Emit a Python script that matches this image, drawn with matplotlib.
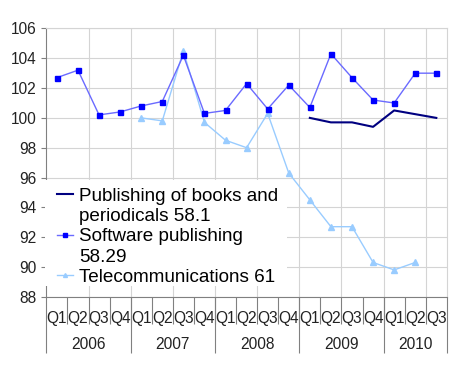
import numpy as np
import matplotlib
matplotlib.use('Agg')
import matplotlib.pyplot as plt
from matplotlib.lines import Line2D
from matplotlib.patches import Rectangle

plt.rcParams['font.family'] = ['Liberation Sans', 'DejaVu Sans']

quarters = ['Q1', 'Q2', 'Q3', 'Q4'] * 4 + ['Q1', 'Q2', 'Q3']
years = ['2006', '2007', '2008', '2009', '2010']
year_len = [4, 4, 4, 4, 3]

nan = np.nan
publishing = [nan] * 12 + [100.0, 99.7, 99.7, 99.4, 100.5, 100.25, 100.0]
software = [102.7, 103.2, 100.2, 100.4, 100.8, 101.1, 104.2, 100.3, 100.5, 102.3,
            100.6, 102.2, 100.7, 104.3, 102.7, 101.2, 101.0, 103.0, 103.0]
telecom = [nan] * 4 + [100.0, 99.8, 104.5, 99.7, 98.5, 98.0, 100.3, 96.3, 94.5,
                       92.7, 92.7, 90.3, 89.8, 90.3, nan]

x = np.arange(len(quarters))

fig = plt.figure(figsize=(4.5, 3.65), dpi=100)
ax = fig.add_axes([0.103, 0.187, 0.890, 0.735])

l_tel, = ax.plot(x, telecom, color='#99CCFF', lw=1, marker='^', ms=3.8,
                 mfc='#99CCFF', mec='#99CCFF', zorder=3)
l_soft, = ax.plot(x, software, color='#6A6AFF', lw=1, marker='s', ms=3.6,
                  mfc='#0000FF', mec='#0000FF', zorder=4)
l_pub, = ax.plot(x, publishing, color='#000080', lw=1.5, zorder=5)

ax.set_xlim(-0.5, len(x) - 0.5)
ax.set_ylim(88, 106)
ax.set_yticks(np.arange(88, 107, 2))
ax.set_xticks(np.arange(1.5, len(x) - 1, 2), minor=True)
ax.set_xticks(x)
ax.set_xticklabels(quarters)
ax.tick_params(axis='x', which='major', length=0, pad=10, labelsize=11.2, labelcolor='#222222')
ax.tick_params(axis='x', which='minor', length=0)
ax.tick_params(axis='y', length=3.6, color='#808080', labelsize=11.2, labelcolor='#222222')

ax.grid(True, which='minor', axis='x', color='#D4D4D4', lw=0.8)
ax.grid(True, which='major', axis='y', color='#D4D4D4', lw=0.8)
ax.set_axisbelow(True)
for s in ['top', 'right']:
    ax.spines[s].set_color('#D4D4D4')
    ax.spines[s].set_linewidth(0.8)
for s in ['left', 'bottom']:
    ax.spines[s].set_color('#808080')
    ax.spines[s].set_linewidth(0.8)

# quarter separators and year separators below the axis
tr = ax.get_xaxis_transform()
bounds = np.arange(0.5, len(x) - 1, 1)
ax.vlines(bounds, -0.1, 0, transform=tr, colors='#808080', lw=0.8, clip_on=False)
ystarts = np.cumsum([0] + year_len) - 0.5
ax.vlines(ystarts, -0.21, 0, transform=tr, colors='#808080', lw=0.8, clip_on=False)
for i, yr in enumerate(years):
    ax.text((ystarts[i] + ystarts[i + 1]) / 2, -0.178, yr, transform=tr,
            ha='center', va='center', fontsize=11.2, color='#222222')

# white legend background covering the left spine
ax.add_patch(Rectangle((-0.004, 0.04), 0.604, 0.395, transform=ax.transAxes,
                       fc='white', ec='none', zorder=2.6, clip_on=False))
blank = Line2D([], [], color='none')
leg = ax.legend([l_pub, blank, l_soft, blank, l_tel],
                ['Publishing of books and', 'periodicals 58.1',
                 'Software publishing', '58.29',
                 'Telecommunications 61'],
                loc='upper left', bbox_to_anchor=(0.017, 0.421), fontsize=13.6,
                frameon=False, borderpad=0.2, borderaxespad=0, handlelength=0.85,
                handletextpad=0.32, labelspacing=0.16, markerscale=0.75)
leg.set_zorder(10)

fig.savefig('out.png', dpi=100, facecolor='white')
